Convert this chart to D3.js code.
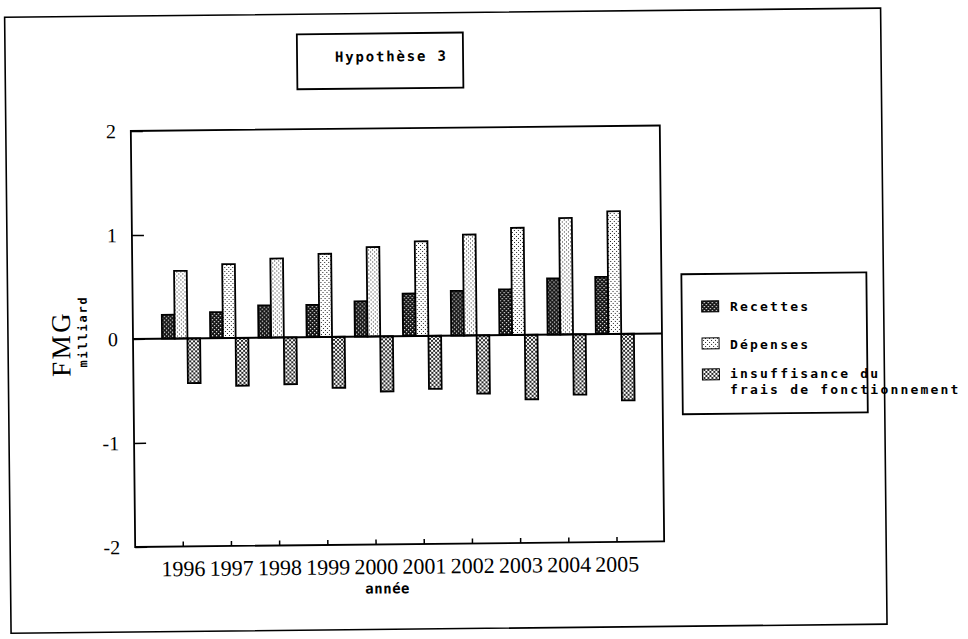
<!DOCTYPE html>
<html><head><meta charset="utf-8">
<script src="https://cdn.jsdelivr.net/npm/d3@7"></script>
<style>body{margin:0;background:#fff}</style>
</head><body><svg id="c" width="968" height="639" style="background:#fff"></svg>
<script>
const years = ["1996","1997","1998","1999","2000","2001","2002","2003","2004","2005"];
const recettes = [0.23, 0.25, 0.31, 0.31, 0.34, 0.41, 0.43, 0.44, 0.54, 0.55];
const depenses = [0.65, 0.71, 0.76, 0.80, 0.86, 0.91, 0.97, 1.03, 1.12, 1.18];
const insuffisance = [-0.43, -0.46, -0.45, -0.49, -0.53, -0.51, -0.56, -0.62, -0.58, -0.64];
const yTicks = [-2, -1, 0, 1, 2];
const seriesKeys = ["rec", "dep", "ins"];
const seriesLabels = [["Recettes"], ["Dépenses"], ["insuffisance du", "frais de fonctionnement"]];
const titleText = "Hypothèse 3";
const yLabel = "FMG";
const yUnit = "milliard";
const xLabel = "année";

const svg = d3.select("#c");
const defs = svg.append("defs");

// patterns
const pDark = defs.append("pattern").attr("id","p-rec").attr("patternUnits","userSpaceOnUse").attr("width",4).attr("height",4);
pDark.append("rect").attr("width",4).attr("height",4).attr("fill","#111");
pDark.append("rect").attr("x",0).attr("y",0).attr("width",1.2).attr("height",1.2).attr("fill","#fff");
pDark.append("rect").attr("x",2).attr("y",2).attr("width",1.2).attr("height",1.2).attr("fill","#fff");

const pLight = defs.append("pattern").attr("id","p-dep").attr("patternUnits","userSpaceOnUse").attr("width",4).attr("height",4);
pLight.append("rect").attr("width",4).attr("height",4).attr("fill","#fff");
pLight.append("rect").attr("x",1).attr("y",0).attr("width",1).attr("height",1).attr("fill","#222");
pLight.append("rect").attr("x",3).attr("y",2).attr("width",1).attr("height",1).attr("fill","#222");

const pMid = defs.append("pattern").attr("id","p-ins").attr("patternUnits","userSpaceOnUse").attr("width",4).attr("height",4);
pMid.append("rect").attr("width",4).attr("height",4).attr("fill","#fff");
pMid.append("path").attr("d","M0,0L4,4M4,0L0,4").attr("stroke","#111").attr("stroke-width",0.9);

const fills = {rec:"url(#p-rec)", dep:"url(#p-dep)", ins:"url(#p-ins)"};
const values = {rec:recettes, dep:depenses, ins:insuffisance};

const g = svg.append("g").attr("transform","rotate(-0.6,133,339)");

// outer frame
g.append("rect").attr("x",8).attr("y",16).attr("width",876).attr("height",616)
  .attr("fill","none").attr("stroke","#000").attr("stroke-width",1.6);

// title box
g.append("rect").attr("x",300).attr("y",36).attr("width",166).attr("height",55)
  .attr("fill","#fff").attr("stroke","#000").attr("stroke-width",1.8);
g.append("text").attr("x",338).attr("y",64).text(titleText)
  .attr("font-family","DejaVu Sans Mono").attr("font-weight","bold").attr("font-size",14)
  .attr("letter-spacing",1.8).attr("fill","#000");

// scales
const x = d3.scaleBand().domain(years).range([157,639]).paddingInner(0.21).paddingOuter(0.105);
const xs = d3.scaleBand().domain(seriesKeys).range([0, x.bandwidth()]);
const y = d3.scaleLinear().domain([-2,2]).range([547,131]);

const L = 133, R = 662;

// plot frame
g.append("rect").attr("x",L).attr("y",y(2)).attr("width",R-L).attr("height",y(-2)-y(2))
  .attr("fill","none").attr("stroke","#000").attr("stroke-width",1.8);

// axes
const yAxis = d3.axisLeft(y).tickValues(yTicks).tickSize(-12).tickPadding(15).tickFormat(d => String(d));
const ya = g.append("g").attr("transform",`translate(${L},0)`).call(yAxis);
ya.select(".domain").remove();
ya.selectAll("line").attr("stroke","#000").attr("stroke-width",1.5);
ya.selectAll("text").attr("font-family","Liberation Serif").attr("font-size",20).attr("fill","#000");

const xAxis = d3.axisBottom(x).tickSize(-5).tickPadding(14).tickSizeOuter(0);
const xa = g.append("g").attr("transform",`translate(0,${y(-2)})`).call(xAxis);
xa.select(".domain").remove();
xa.selectAll("line").attr("stroke","#000").attr("stroke-width",1.5);
xa.selectAll("text").attr("font-family","Liberation Serif").attr("font-size",22).attr("fill","#000");

// bars
seriesKeys.forEach(k => {
  g.append("g").selectAll("rect").data(years.map((yr,i)=>({yr, v:values[k][i]}))).join("rect")
    .attr("x", d => x(d.yr) + xs(k))
    .attr("y", d => y(Math.max(0,d.v)))
    .attr("width", xs.bandwidth())
    .attr("height", d => Math.abs(y(d.v) - y(0)))
    .attr("fill", fills[k]).attr("stroke","#000").attr("stroke-width",1.8);
});

// zero line
g.append("line").attr("x1",L).attr("x2",R).attr("y1",y(0)).attr("y2",y(0))
  .attr("stroke","#000").attr("stroke-width",2);

// y label
g.append("text").attr("transform","translate(70,343) rotate(-90)").attr("text-anchor","middle")
  .attr("font-family","Liberation Serif").attr("font-size",27).attr("letter-spacing",2.5).text(yLabel);
g.append("text").attr("transform","translate(87,331) rotate(-90)").attr("text-anchor","middle")
  .attr("font-family","DejaVu Sans Mono").attr("font-weight","bold").attr("font-size",12)
  .attr("letter-spacing",1.8).text(yUnit);

// x label
g.append("text").attr("x",385).attr("y",596).attr("text-anchor","middle")
  .attr("font-family","DejaVu Sans Mono").attr("font-weight","bold").attr("font-size",14)
  .attr("letter-spacing",0.5).text(xLabel);

// legend box and swatches (rotated with the scan)
g.append("rect").attr("x",682).attr("y",280).attr("width",185).attr("height",140)
  .attr("fill","#fff").attr("stroke","#000").attr("stroke-width",1.8);
const legY = [318, 355, 386];
seriesKeys.forEach((k,i) => {
  g.append("rect").attr("x",702).attr("y",legY[i]-11).attr("width",17).attr("height",11)
    .attr("fill",fills[k]).attr("stroke","#000").attr("stroke-width",1);
});
// legend texts (kept unrotated so the two lines don't collide)
const legTextY = [311, 349, 378];
seriesKeys.forEach((k,i) => {
  seriesLabels[i].forEach((t,j) => {
    svg.append("text").attr("x",730).attr("y",legTextY[i] + j*16).text(t)
      .attr("font-family","DejaVu Sans Mono").attr("font-weight","bold").attr("font-size",13)
      .attr("letter-spacing",2.2).attr("fill","#000");
  });
});
</script></body></html>
